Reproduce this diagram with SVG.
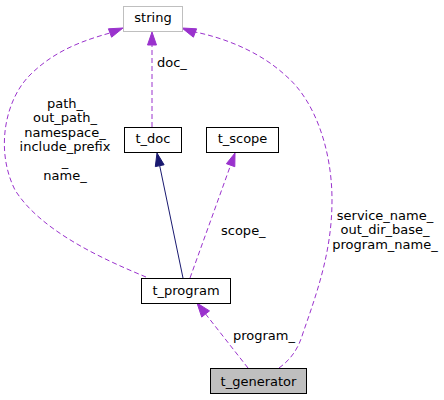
<svg xmlns="http://www.w3.org/2000/svg" width="444" height="400" viewBox="0 0 444 400">
<style>
text{font-family:"DejaVu Sans",sans-serif;font-size:13px;fill:#000}
.node rect{fill:#fff;stroke:#000;stroke-width:1}
.mid{text-anchor:middle}
.dash{fill:none;stroke:#9a32cd;stroke-width:1;stroke-dasharray:5,3}
.solid{fill:none;stroke:#191970;stroke-width:1}
.ahp{fill:#9a32cd;stroke:#9a32cd}
.ahn{fill:#191970;stroke:#191970}
</style>
<rect width="444" height="400" fill="#fff"/>
<g id="connectors">
<path class="dash" d="M152,127 L152,45"/>
<polygon class="ahp" points="152,32 147.5,45 156.5,45"/>
<text x="157" y="66.5">doc_</text>
<path class="solid" d="M183,278 L159.7,165.7"/>
<polygon class="ahn" points="157,153 164.1,164.8 155.3,166.6"/>
<path class="dash" d="M190,278 L230.6,165.2"/>
<polygon class="ahp" points="235,153 234.8,166.7 226.4,163.7"/>
<text x="221" y="234.5">scope_</text>
<path class="dash" d="M146,277 C100,258 40,230 15,190 C-5,150 5,100 30,75 C55,50 85,40 110,33"/>
<polygon class="ahp" points="123,28 111.6,37.2 108.4,28.8"/>
<text class="mid" x="65" y="107.5">path_</text>
<text class="mid" x="65" y="122">out_path_</text>
<text class="mid" x="65" y="136.5">namespace_</text>
<text class="mid" x="65" y="151">include_prefix</text>
<text class="mid" x="65" y="165.5">_</text>
<text class="mid" x="65" y="180">name_</text>
<path class="dash" d="M279,368 C290,360 298,350 303,333 C318,290 332,250 332,200 C332,150 315,100 285,75 C260,52 225,38 195,32"/>
<polygon class="ahp" points="182,28 196.6,28.8 193.4,37.2"/>
<text class="mid" x="385" y="219.5">service_name_</text>
<text class="mid" x="385" y="234">out_dir_base_</text>
<text class="mid" x="385" y="248.5">program_name_</text>
<path class="dash" d="M248,368 L205.6,314"/>
<polygon class="ahp" points="197,303 209.5,310.9 201.7,317.1"/>
<text x="233" y="339.5">program_</text>
</g>
<g id="string" class="node"><rect x="123.5" y="6.5" width="59" height="25" style="stroke:#bfbfbf"/><text class="mid" x="153" y="22">string</text></g>
<g id="t_doc" class="node"><rect x="124.5" y="127.5" width="57" height="25"/><text class="mid" x="153" y="143">t_doc</text></g>
<g id="t_scope" class="node"><rect x="206.5" y="127.5" width="72" height="25"/><text class="mid" x="242.5" y="143">t_scope</text></g>
<g id="t_program" class="node"><rect x="141.5" y="278.5" width="89" height="25"/><text class="mid" x="186" y="295">t_program</text></g>
<g id="t_generator" class="node"><rect x="210.5" y="368.5" width="96" height="25" style="fill:#bfbfbf"/><text class="mid" x="258.5" y="386">t_generator</text></g>
</svg>
